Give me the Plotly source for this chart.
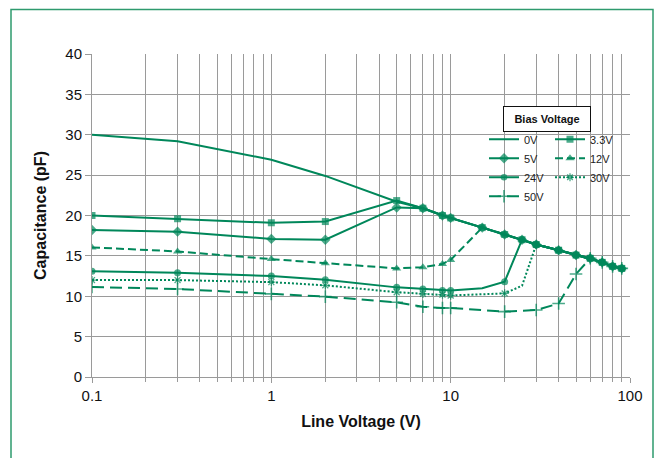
import plotly.graph_objects as go

GREEN = "#00875A"

# Shared high-voltage tail (all bias curves converge here)
tail_x = [7, 9, 10, 15, 20, 25, 30, 40, 50, 60, 70, 80, 90]
tail_y = [20.9, 20.0, 19.7, 18.5, 17.65, 17.0, 16.4, 15.7, 15.1, 14.7, 14.2, 13.7, 13.45]

v0_x = [0.1, 0.3, 1, 2, 5]
v0_y = [30.0, 29.2, 26.9, 24.9, 21.7]

v33_x = [0.1, 0.3, 1, 2, 5]
v33_y = [20.0, 19.6, 19.1, 19.25, 21.85]

v5_x = [0.1, 0.3, 1, 2, 5]
v5_y = [18.2, 18.0, 17.1, 17.0, 21.0]

v12_x = [0.1, 0.3, 1, 2, 5, 7, 9, 10]
v12_y = [16.05, 15.55, 14.6, 14.1, 13.45, 13.6, 14.0, 14.5]

v24_x = [0.1, 0.3, 1, 2, 5, 7, 9, 10, 15, 20]
v24_y = [13.1, 12.9, 12.5, 12.05, 11.1, 10.9, 10.7, 10.7, 11.0, 11.8]

v30_x = [0.1, 0.3, 1, 2, 5, 7, 9, 10, 20, 25]
v30_y = [12.0, 12.0, 11.75, 11.35, 10.5, 10.3, 10.2, 10.1, 10.35, 11.3]

v50_x = [0.1, 0.3, 1, 2, 5, 7, 9, 10, 20, 30, 40, 50]
v50_y = [11.15, 10.9, 10.3, 9.95, 9.25, 8.7, 8.55, 8.55, 8.1, 8.3, 9.1, 12.75]

x_ticks = [0.1, 1, 10, 100]
x_tick_labels = ["0.1", "1", "10", "100"]
y_ticks = [0, 5, 10, 15, 20, 25, 30, 35, 40]


def join(xs, ys):
    """Append the shared tail from the first tail point beyond the series."""
    last = xs[-1]
    tx = [x for x in tail_x if x > last]
    ty = [y for x, y in zip(tail_x, tail_y) if x > last]
    return xs + tx, ys + ty


fig = go.Figure()

series = [
    # name, x, y, dash, symbol, size, outline width, legend, hidden-marker x values
    ("0V", v0_x, v0_y, "solid", None, 0, 0, "legend", []),
    ("5V", v5_x, v5_y, "solid", "diamond", 8, 0, "legend", []),
    ("24V", v24_x, v24_y, "solid", "circle", 7, 0, "legend", [15]),
    ("50V", v50_x, v50_y, "12px,6px", "cross-thin-open", 9, 1.6, "legend", []),
    ("12V", v12_x, v12_y, "8px,4px", "triangle-up", 8, 0, "legend2", []),
    ("30V", v30_x, v30_y, "2px,2px", "asterisk-open", 7, 1.3, "legend2", [25]),
    ("3.3V", v33_x, v33_y, "solid", "square", 7, 0, "legend2", []),
]
legend_rank = {"0V": 1, "5V": 2, "24V": 3, "50V": 4, "3.3V": 1, "12V": 2, "30V": 3}

for name, xs, ys, dash, sym, size, lw, leg, hidden in series:
    fx, fy = join(xs, ys)
    if sym is None:
        mode = "lines"
        marker = None
    else:
        mode = "lines+markers"
        sizes = [0 if x in hidden else size for x in fx]
        marker = dict(symbol=sym, size=sizes, color=GREEN,
                      line=dict(color=GREEN, width=lw))
    fig.add_trace(go.Scatter(
        x=fx, y=fy, name=name, mode=mode,
        line=dict(color=GREEN, width=2, dash=dash),
        marker=marker, legend=leg, legendrank=legend_rank[name],
    ))

# figure geometry (page body adds an 8px offset, so the figure is 654x450)
W, H = 654, 450
L, T = 84, 45.5
pw, ph = 538, 324
R = W - L - pw
B = H - T - ph


def px_x(x):
    return (x - L) / pw


def px_y(y):
    return (H - B - y) / ph


minor_vals = [m * 10 ** e for e in (-1, 0, 1) for m in range(2, 10)]
GRID = "#9a9a9a"

fig.update_layout(
    width=W, height=H,
    margin=dict(l=L, r=R, t=T, b=B),
    paper_bgcolor="white", plot_bgcolor="white",
    font=dict(family="Liberation Sans, Arial, sans-serif", color="#111"),
    xaxis=dict(
        type="log", range=[-1, 2],
        tickvals=x_ticks, ticktext=x_tick_labels,
        tickfont=dict(size=15),
        showgrid=True, gridcolor=GRID, gridwidth=1,
        ticks="outside", ticklen=5, tickcolor=GRID,
        showline=True, linecolor=GRID, linewidth=1,
        minor=dict(tickmode="array", tickvals=minor_vals, showgrid=True,
                   gridcolor=GRID, gridwidth=1, ticks="outside",
                   ticklen=4, tickcolor=GRID),
        title=dict(text="Line Voltage (V)", font=dict(size=16, weight="bold"),
                   standoff=12),
        zeroline=False,
    ),
    yaxis=dict(
        range=[0, 40], tickvals=y_ticks,
        tickfont=dict(size=15),
        showgrid=True, gridcolor=GRID, gridwidth=1,
        ticks="outside", ticklen=6, tickcolor=GRID,
        showline=True, linecolor=GRID, linewidth=1,
        title=dict(text="Capacitance (pF)", font=dict(size=16, weight="bold"),
                   standoff=14),
        zeroline=False,
    ),
    legend=dict(
        x=px_x(476), y=px_y(116.5), xanchor="left", yanchor="top",
        bgcolor="rgba(0,0,0,0)", borderwidth=0, tracegroupgap=0,
        font=dict(size=11, color="#222"), itemwidth=30,
        traceorder="normal",
    ),
    legend2=dict(
        x=px_x(542), y=px_y(116.5), xanchor="left", yanchor="top",
        bgcolor="rgba(0,0,0,0)", borderwidth=0, tracegroupgap=0,
        font=dict(size=11, color="#222"), itemwidth=30,
        traceorder="normal",
    ),
    showlegend=True,
    annotations=[dict(
        text="<b>Bias Voltage</b>", xref="paper", yref="paper",
        x=px_x(538.5), y=px_y(111), xanchor="center", yanchor="middle",
        showarrow=False, font=dict(size=11, color="#111"),
        bordercolor="#111", borderwidth=1, bgcolor="white",
        width=84, height=22,
    )],
    shapes=[dict(
        type="rect", xref="paper", yref="paper",
        x0=px_x(3), x1=px_x(645), y0=px_y(470), y1=px_y(0.8),
        line=dict(color="#2e9a6e", width=1.5), fillcolor="rgba(0,0,0,0)",
        layer="above",
    )],
)

fig.write_html("out.html")
